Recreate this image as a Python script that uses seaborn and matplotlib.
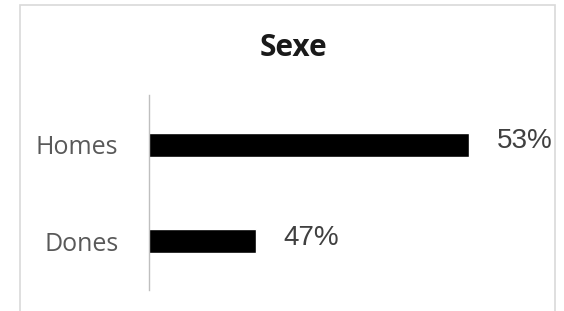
import matplotlib
matplotlib.use("Agg")
import matplotlib.pyplot as plt
import seaborn as sns
import pandas as pd
from matplotlib.patches import Rectangle

# Dades
categories = ["Homes", "Dones"]
percentatges = [53, 47]
titol = "Sexe"

df = pd.DataFrame({"sexe": categories, "pct": percentatges})

sns.set_theme(style="white")
plt.rcParams["font.family"] = ["Open Sans", "DejaVu Sans"]

fig = plt.figure(figsize=(5.64, 3.11), dpi=100)
W, H = 564, 311

# marc del grafic (estil Excel)
fig.patches.append(Rectangle((20 / W, -0.05), 535 / W, 1 - 5 / H + 0.05,
                             transform=fig.transFigure, fill=False,
                             edgecolor="#d9d9d9", linewidth=1.2))

ax = fig.add_axes([149 / W, (H - 290) / H, 356 / W, 195 / H])
sns.barplot(data=df, x="pct", y="sexe", orient="h", color="black",
            width=0.25, saturation=1, ax=ax)

ax.set_xlim(44, 54)
ax.set_ylim(1.51, -0.52)
ax.set_xlabel("")
ax.set_ylabel("")
ax.set_xticks([])
for s in ["top", "right", "bottom"]:
    ax.spines[s].set_visible(False)
ax.spines["left"].set_color("#bfbfbf")
ax.spines["left"].set_linewidth(1)
ax.tick_params(axis="y", length=0, pad=22, labelsize=18, labelcolor="#595959")

for i, v in enumerate(percentatges):
    ax.annotate(f"{v}%", xy=(v, i), xytext=(19.5, 2.5), textcoords="offset points",
                va="center", ha="left", fontsize=20, color="#404040",
                family="Liberation Sans")

fig.text(293 / W, 1 - 48 / H, titol, ha="center", va="center",
         fontsize=21.5, fontweight="bold", color="#1a1a1a")

fig.savefig("out.png", dpi=100)
